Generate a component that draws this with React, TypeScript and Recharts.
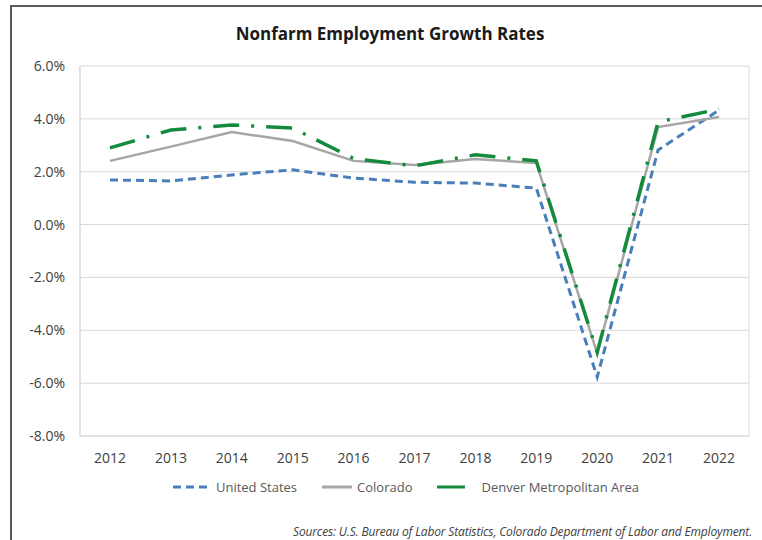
import React from "react";
import {
  LineChart,
  Line,
  XAxis,
  YAxis,
  CartesianGrid,
  Legend,
} from "recharts";

const years = ["2012", "2013", "2014", "2015", "2016", "2017", "2018", "2019", "2020", "2021", "2022"];
const unitedStates = [1.69, 1.65, 1.88, 2.07, 1.76, 1.6, 1.57, 1.38, -5.77, 2.82, 4.33];
const colorado = [2.41, 2.95, 3.5, 3.16, 2.41, 2.25, 2.48, 2.33, -4.86, 3.69, 4.07];
const denver = [2.9, 3.58, 3.77, 3.65, 2.5, 2.22, 2.64, 2.41, -4.83, 3.88, 4.37];
const yTicks = [-8, -6, -4, -2, 0, 2, 4, 6];
const seriesOrder = ["United States", "Colorado", "Denver Metropolitan Area"];

const chartData = years.map((year, i) => ({
  year,
  "United States": unitedStates[i],
  Colorado: colorado[i],
  "Denver Metropolitan Area": denver[i],
}));

const FONT = "'Open Sans', 'Noto Sans', sans-serif";

// widths of the legend swatches, as in the original
const swatchWidth: { [key: string]: number } = {
  "United States": 38,
  Colorado: 30,
  "Denver Metropolitan Area": 28,
};

const LegendContent = (props: any) => {
  const payload = [...(props.payload || [])].sort(
    (a: any, b: any) => seriesOrder.indexOf(a.value) - seriesOrder.indexOf(b.value)
  );
  return (
    <div
      style={{
        display: "flex",
        justifyContent: "center",
        alignItems: "center",
        fontFamily: FONT,
        fontSize: 13,
        color: "#595959",
        paddingLeft: 50,
      }}
    >
      {payload.map((entry: any) => {
        const w = swatchWidth[entry.value] || 30;
        const dash = entry.payload?.strokeDasharray;
        const isDenver = entry.value === "Denver Metropolitan Area";
        return (
          <div
            key={entry.value}
            style={{ display: "flex", alignItems: "center", marginRight: isDenver ? 0 : 25 }}
          >
            <svg width={w} height={8} style={{ marginRight: isDenver ? 16 : 5 }}>
              <line
                x1={0}
                y1={4}
                x2={w}
                y2={4}
                stroke={entry.color}
                strokeWidth={3}
                strokeDasharray={isDenver ? undefined : dash}
              />
            </svg>
            <span>{entry.value}</span>
          </div>
        );
      })}
    </div>
  );
};

const App: React.FC = () => {
  return (
    <div
      style={{
        position: "absolute",
        left: 0,
        top: 0,
        width: 762,
        height: 540,
        background: "#fff",
        overflow: "hidden",
      }}
    >
      <div
        style={{
          position: "absolute",
          left: 10,
          top: 5,
          width: 800,
          height: 600,
          borderLeft: "2px solid #5a5a5a",
          borderTop: "2px solid #5a5a5a",
        }}
      />
      <div
        style={{
          position: "absolute",
          left: 0,
          top: 22,
          width: 780,
          textAlign: "center",
          fontFamily: FONT,
          fontWeight: 700,
          fontSize: 17,
          color: "#1a1a1a",
        }}
      >
        Nonfarm Employment Growth Rates
      </div>
      <div style={{ position: "absolute", left: 0, top: 0 }}>
        <LineChart
          width={762}
          height={540}
          data={chartData}
          margin={{ top: 66, right: 13, left: 10, bottom: 74 }}
        >
          <CartesianGrid
            stroke="#d9d9d9"
            verticalCoordinatesGenerator={(p: any) => [p.offset.left, p.offset.left + p.offset.width]}
          />
          <XAxis
            dataKey="year"
            height={30}
            padding={{ left: 30, right: 30 }}
            axisLine={{ stroke: "#d9d9d9" }}
            tickLine={false}
            tickMargin={11}
            tick={{ fill: "#404040", fontSize: 14, fontFamily: FONT }}
            interval={0}
          />
          <YAxis
            width={70}
            domain={[-8, 6]}
            ticks={yTicks}
            allowDataOverflow
            axisLine={{ stroke: "#d9d9d9" }}
            tickLine={false}
            tickMargin={9}
            tickFormatter={(v: number) => v.toFixed(1) + "%"}
            tick={{ fill: "#404040", fontSize: 14, fontFamily: FONT }}
          />
          <Legend
            verticalAlign="middle"
            align="center"
            layout="horizontal"
            wrapperStyle={{ top: 478, left: 0, width: 762 }}
            content={<LegendContent />}
          />
          <Line
            type="linear"
            dataKey="United States"
            stroke="#4a7ebb"
            strokeWidth={3}
            strokeDasharray="8 5"
            dot={false}
            isAnimationActive={false}
          />
          <Line
            type="linear"
            dataKey="Colorado"
            stroke="#a6a6a6"
            strokeWidth={2.5}
            dot={false}
            isAnimationActive={false}
          />
          <Line
            type="linear"
            dataKey="Denver Metropolitan Area"
            stroke="#138a3c"
            strokeWidth={3.5}
            strokeDasharray="26 12 3 12"
            dot={false}
            isAnimationActive={false}
          />
        </LineChart>
      </div>
      <div
        style={{
          position: "absolute",
          right: 10,
          top: 523,
          fontFamily: FONT,
          fontStyle: "italic",
          fontSize: 12,
          letterSpacing: -0.15,
          color: "#404040",
          whiteSpace: "nowrap",
        }}
      >
        Sources: U.S. Bureau of Labor Statistics, Colorado Department of Labor and Employment.
      </div>
    </div>
  );
};

export default App;
